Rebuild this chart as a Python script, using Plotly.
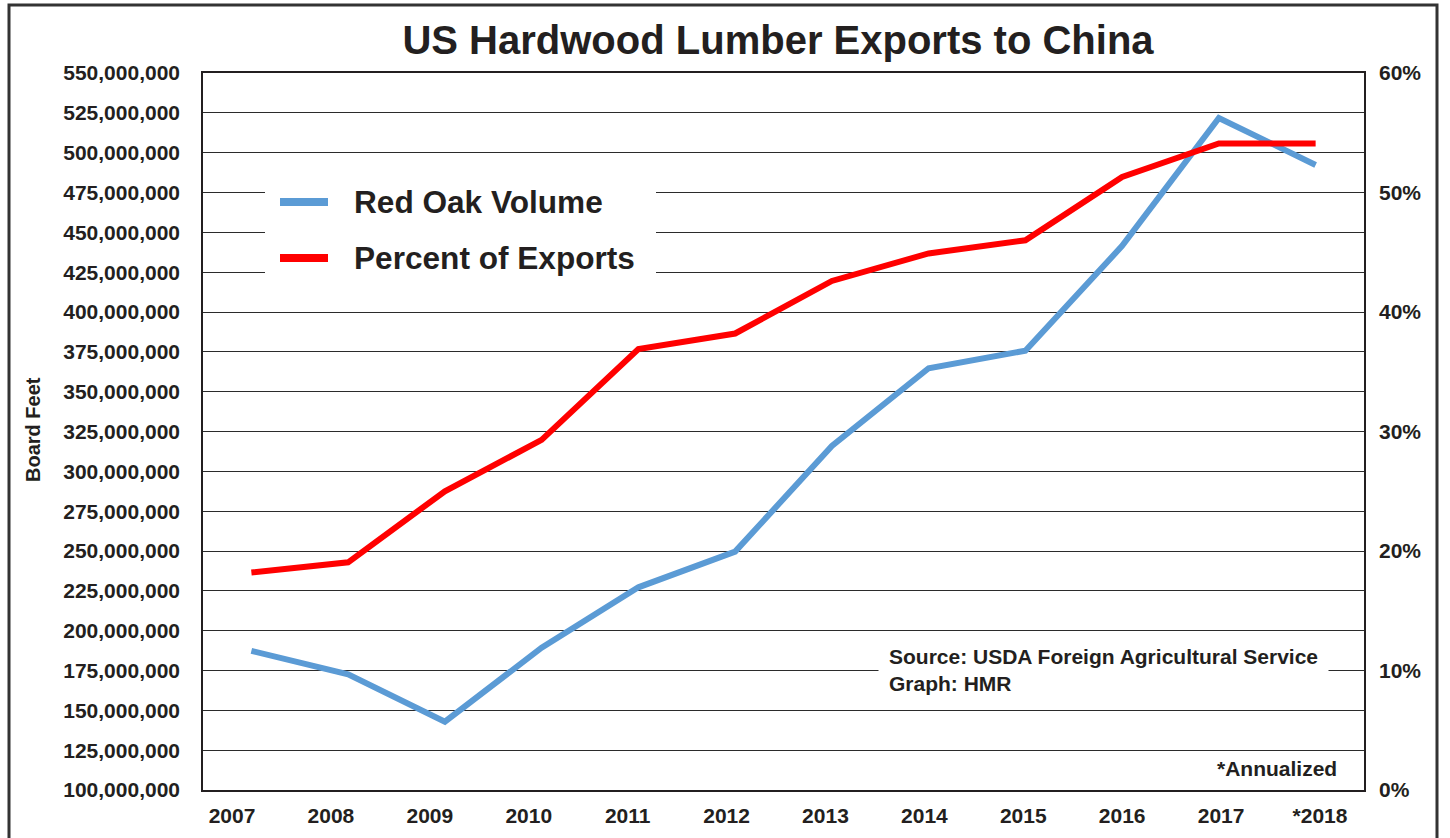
import plotly.graph_objects as go

# ---- data -------------------------------------------------------------
years = ["2007", "2008", "2009", "2010", "2011", "2012",
         "2013", "2014", "2015", "2016", "2017", "*2018"]
red_oak_volume = [187_300_000, 172_600_000, 142_900_000, 189_300_000,
                  227_200_000, 249_600_000, 315_900_000, 364_700_000,
                  375_700_000, 441_500_000, 521_800_000, 492_300_000]
percent_of_exports = [18.2, 19.05, 25.0, 29.3, 36.9, 38.2,
                      42.6, 44.9, 46.0, 51.3, 54.1, 54.1]
series_names = ["Red Oak Volume", "Percent of Exports"]

# ---- page geometry ----------------------------------------------------
W, H = 1450, 838
L, R, T, B = 203, 86, 73, 48
PW, PH = W - L - R, H - T - B


def px_x(p):
    return (p - L) / PW


def px_y(p):
    return 1 - (p - T) / PH


FONT = "Liberation Sans, Arial, Helvetica, sans-serif"
INK = "#231F20"
BLUE = "#5B9BD5"
RED = "#FF0000"
colors = [BLUE, RED]

idx = list(range(len(years)))
# category labels sit on a slightly wider pitch than the points
label_pos = [i * 1.0223 - 0.2 for i in idx]

fig = go.Figure()
fig.add_trace(go.Scatter(
    x=idx, y=red_oak_volume, name=series_names[0], mode="lines",
    line=dict(color=BLUE, width=6), showlegend=False,
))
fig.add_trace(go.Scatter(
    x=idx, y=percent_of_exports, name=series_names[1], mode="lines",
    line=dict(color=RED, width=6), yaxis="y2", showlegend=False,
))

fig.update_layout(
    width=W, height=H,
    margin=dict(l=L, r=R, t=T, b=B, pad=0),
    paper_bgcolor="white", plot_bgcolor="white",
    font=dict(family=FONT, color=INK, size=21, weight="bold"),
    title=dict(
        text="US Hardwood Lumber Exports to China",
        x=778 / W, xanchor="center", xref="container",
        y=1 - 40 / H, yanchor="middle", yref="container",
        font=dict(size=40, family=FONT, color=INK, weight="bold"),
    ),
    xaxis=dict(
        range=[-0.5, len(years) - 0.5],
        tickmode="array", tickvals=label_pos, ticktext=years,
        showgrid=False, zeroline=False, ticks="", automargin=False,
        showline=True, linecolor=INK, linewidth=1.5, mirror=True,
        ticklabelstandoff=6,
        tickfont=dict(size=21, family=FONT, color=INK, weight="bold"),
    ),
    yaxis=dict(
        range=[100_000_000, 550_000_000], dtick=25_000_000,
        tickformat=",d", automargin=False,
        showgrid=True, gridcolor="#2b2b2b", gridwidth=1.3,
        zeroline=False, ticks="",
        showline=True, linecolor=INK, linewidth=1.5, mirror=True,
        ticklabelstandoff=17,
        tickfont=dict(size=21, family=FONT, color=INK, weight="bold"),
    ),
    yaxis2=dict(
        overlaying="y", side="right", automargin=False,
        range=[0, 60], dtick=10, ticksuffix="%",
        showgrid=False, zeroline=False, ticks="",
        ticklabelstandoff=14,
        tickfont=dict(size=21, family=FONT, color=INK, weight="bold"),
    ),
    showlegend=False,
)

# key: white panel, colour swatches and series names
fig.add_shape(
    type="rect", xref="paper", yref="paper",
    x0=px_x(265), x1=px_x(656), y0=px_y(292), y1=px_y(168),
    line=dict(width=0), fillcolor="white", layer="above",
)
for k, (name, col) in enumerate(zip(series_names, colors)):
    yc = 202 + k * 56
    fig.add_shape(
        type="line", xref="paper", yref="paper",
        x0=px_x(280), x1=px_x(328), y0=px_y(yc), y1=px_y(yc),
        line=dict(color=col, width=8), layer="above",
    )
    fig.add_annotation(
        text=name, xref="paper", yref="paper",
        x=px_x(352), y=px_y(yc), xanchor="left", yanchor="middle",
        showarrow=False,
        font=dict(size=31.6, family=FONT, color=INK, weight="bold"),
    )

# axis caption
fig.add_annotation(
    text="Board Feet", textangle=-90,
    xref="paper", yref="paper", x=px_x(33), y=px_y(430),
    xanchor="center", yanchor="middle", showarrow=False,
    font=dict(size=20, family=FONT, color=INK, weight="bold"),
)

# source note on a white panel
fig.add_annotation(
    text="Source: USDA Foreign Agricultural Service<br>Graph: HMR",
    xref="paper", yref="paper", x=px_x(878), y=px_y(670),
    xanchor="left", yanchor="middle", align="left", showarrow=False,
    bgcolor="white", borderpad=10,
    font=dict(size=21, family=FONT, color=INK, weight="bold"),
)

fig.add_annotation(
    text="*Annualized",
    xref="paper", yref="paper", x=px_x(1339), y=px_y(768),
    xanchor="right", yanchor="middle", showarrow=False,
    font=dict(size=21, family=FONT, color=INK, weight="bold"),
)

# outer frame around the whole graphic
fig.add_shape(
    type="rect", xref="paper", yref="paper",
    x0=px_x(9), x1=px_x(1437), y0=px_y(860), y1=px_y(5),
    line=dict(color="#333333", width=3), fillcolor="rgba(0,0,0,0)",
    layer="above",
)

fig.write_html("out.html")
